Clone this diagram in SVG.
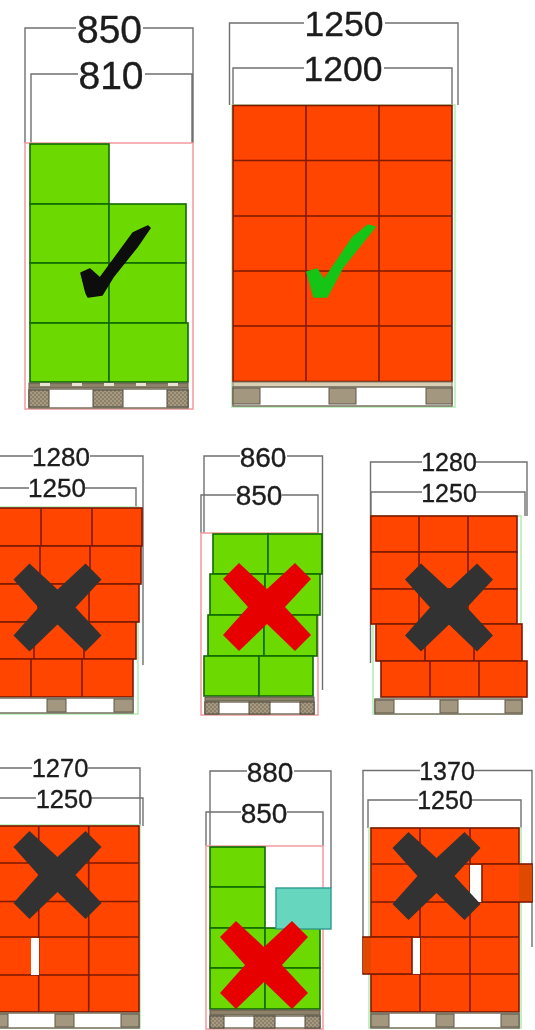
<svg xmlns="http://www.w3.org/2000/svg" width="535" height="1030" viewBox="0 0 535 1030">
<style>
.dim{fill:none;stroke:#6f6f6f;stroke-width:1.4}
.t{font-family:"Liberation Sans",Arial,sans-serif;fill:#1c1c1c;stroke:#1c1c1c;stroke-width:.35;text-anchor:middle}
.g{fill:#6cd900;stroke:#126a00;stroke-width:1.6}
.o{fill:#ff4500;stroke:#7d1a00;stroke-width:1.6}
.l{fill:none;stroke:#7d1a00;stroke-width:1.6}
.pk{fill:none;stroke:#f29a9f;stroke-width:1.5}
.gr{fill:none;stroke:#b5eeb5;stroke-width:1.6}
.blk{fill:#a3977f;stroke:#5e594a;stroke-width:1}
.hb{fill:url(#h);stroke:#4f4a3c;stroke-width:1}
.rail{fill:#fff;stroke:#807a68;stroke-width:1.6}
.deck{fill:#d8cfb5;stroke:#807a68;stroke-width:1}
.hd{fill:#8d8169;stroke:#5e594a;stroke-width:1}
.gap{fill:none;stroke:#e8e4d4;stroke-width:3;stroke-dasharray:10 22}
.xd{fill:#333}
.xr{fill:#e60000}
.soft{filter:url(#b)}
</style>
<defs>
<filter id="b" x="0" y="0" width="535" height="1030" filterUnits="userSpaceOnUse"><feGaussianBlur stdDeviation="0.5"/></filter>
<pattern id="h" width="4" height="4" patternUnits="userSpaceOnUse"><rect width="4" height="4" fill="#a79a80"/><path d="M0 1H2M2 3H4" stroke="#6f6753" stroke-width="1"/></pattern>
<path id="x" d="M-28 -44L0 -18L28 -44L44 -28L18 0L44 28L28 44L0 17L-28 44L-44 28L-19 0L-44 -28Z"/>
</defs>
<rect width="535" height="1030" fill="#fff"/>
<g class="soft">
<g id="pallet-1">
<path class="dim" d="M25 143V28H76M143 28H193V143M31 143V74H78M145 74H192V143"/>
<rect class="pk" x="25" y="143" width="168" height="266"/>
<rect class="g" x="30" y="144" width="79" height="60"/><rect class="g" x="30" y="204" width="79" height="59"/><rect class="g" x="109" y="204" width="77" height="59"/><rect class="g" x="30" y="263" width="79" height="60"/><rect class="g" x="109" y="263" width="77" height="60"/><rect class="g" x="30" y="323" width="79" height="59"/><rect class="g" x="109" y="323" width="79" height="59"/>
<rect class="hd" x="29" y="383" width="159" height="5"/><path class="gap" d="M40 384.500H188"/><rect class="rail" x="29" y="389" width="159" height="19"/>
<rect class="hb" x="29" y="390" width="20" height="17"/><rect class="hb" x="93" y="390" width="30" height="17"/><rect class="hb" x="167" y="390" width="21" height="17"/>
<path d="M81 273L90 269L100 278L133 233L148 226L150 228L137 247L113 277L102 295L88 297L86 293Z" fill="#0c0c0c" stroke="#0c0c0c" stroke-width="1.500" stroke-linejoin="round"/>
<text class="t" x="109.500" y="43" font-size="39">850</text><text class="t" x="111" y="89" font-size="39">810</text>
</g>
<g id="pallet-2">
<path class="dim" d="M229.500 105V23H304M385 23H458V105M233 105V68H304M384 68H452V105"/>
<rect class="gr" x="232" y="105" width="223" height="302"/>
<rect class="o" x="233" y="105.500" width="219" height="276"/>
<path class="l" d="M306 105.500V381.500M379 105.500V381.500M233 160.500H452M233 216H452M233 271H452M233 326H452"/>
<rect class="deck" x="233" y="382" width="219" height="5"/><rect class="rail" x="233" y="387" width="219" height="19"/>
<rect class="blk" x="233" y="388" width="27" height="16"/><rect class="blk" x="329" y="388" width="27" height="16"/><rect class="blk" x="426" y="388" width="26" height="16"/>
<path d="M307 272L317 269L324 280L353 237L368 225L375 227L363 242L343 267L327 297L314 297Z" fill="#14c414" stroke="#14c414" stroke-width="1.500" stroke-linejoin="round"/>
<text class="t" x="344" y="36" font-size="35.500">1250</text><text class="t" x="343" y="81" font-size="35.500">1200</text>
</g>
<g id="pallet-3">
<path class="dim" d="M0 456H33M90 456H143V665M0 488H29M85 488H136V507"/>
<rect class="gr" x="-2" y="507" width="140" height="207"/>
<rect class="o" x="-2" y="508" width="144" height="38"/><path class="l" d="M41 508V546M92 508V546"/>
<rect class="o" x="-2" y="546" width="143" height="38"/><path class="l" d="M40 546V584M90 546V584"/>
<rect class="o" x="-2" y="584" width="141" height="38"/><path class="l" d="M38 584V622M89 584V622"/>
<rect class="o" x="-2" y="622" width="138" height="37"/><path class="l" d="M34 622V659M84 622V659"/>
<rect class="o" x="-2" y="659" width="135" height="38"/><path class="l" d="M31 659V697M82 659V697"/>
<rect class="rail" x="-2" y="698" width="135" height="15"/><rect class="blk" x="47" y="699" width="19" height="13"/><rect class="blk" x="114" y="699" width="19" height="13"/>
<use href="#x" class="xd" x="57.500" y="607.500"/>
<text class="t" x="61" y="466" font-size="26">1280</text><text class="t" x="57" y="497" font-size="26">1250</text>
</g>
<g id="pallet-4">
<path class="dim" d="M204 533V456H240M287 456H322.500V690M201 533V495H236M282 495H318V533"/>
<rect class="pk" x="201" y="533" width="117" height="182"/>
<rect class="g" x="213" y="534" width="55" height="40"/><rect class="g" x="268" y="534" width="54" height="40"/>
<rect class="g" x="210" y="574" width="55" height="41"/><rect class="g" x="265" y="574" width="55" height="41"/>
<rect class="g" x="208" y="615" width="56" height="41"/><rect class="g" x="264" y="615" width="53" height="41"/>
<rect class="g" x="204" y="656" width="55" height="40"/><rect class="g" x="259" y="656" width="54" height="40"/>
<rect class="hd" x="205" y="697" width="109" height="4"/><rect class="rail" x="205" y="702" width="109" height="12"/>
<rect class="hb" x="205" y="702" width="14" height="12"/><rect class="hb" x="249" y="702" width="21" height="12"/><rect class="hb" x="300" y="702" width="14" height="12"/>
<use href="#x" class="xr" x="267" y="607"/>
<text class="t" x="263" y="467" font-size="28">860</text><text class="t" x="259" y="505" font-size="28">850</text>
</g>
<g id="pallet-5">
<path class="dim" d="M370.500 663V462H422M476 462H527V516M371 516V492H422M476 492H525V516"/>
<rect class="gr" x="373" y="516" width="148" height="198"/>
<rect class="o" x="371" y="516" width="146" height="36"/><path class="l" d="M419 516V552M468 516V552"/>
<rect class="o" x="371" y="552" width="146" height="37"/><path class="l" d="M419 552V589M468 552V589"/>
<rect class="o" x="371" y="589" width="146" height="35"/><path class="l" d="M419 589V624M468 589V624"/>
<rect class="o" x="376" y="624" width="146" height="37"/><path class="l" d="M425 624V661M474 624V661"/>
<rect class="o" x="381" y="661" width="146" height="36"/><path class="l" d="M430 661V697M479 661V697"/>
<rect class="rail" x="375" y="699" width="147" height="15"/><rect class="blk" x="375" y="700" width="19" height="13"/><rect class="blk" x="440" y="700" width="18" height="13"/><rect class="blk" x="505" y="700" width="17" height="13"/>
<use href="#x" class="xd" x="449" y="607.500"/>
<text class="t" x="449" y="471" font-size="25">1280</text><text class="t" x="449" y="502" font-size="25">1250</text>
</g>
<g id="pallet-6">
<path class="dim" d="M0 768H32M88 768H140V826M0 798H36M91 798H143V826"/>
<rect class="gr" x="-2" y="825" width="142" height="203"/>
<rect class="o" x="-2" y="826" width="141" height="186"/>
<path class="l" d="M0 863H139M0 901.500H139M0 937H139M0 975H139M38.700 826V1012M88.700 826V1012"/>
<rect x="31" y="938" width="8" height="37" fill="#fff"/>
<rect class="rail" x="-2" y="1013" width="141" height="15"/><rect class="blk" x="-2" y="1014" width="10" height="13"/><rect class="blk" x="55" y="1014" width="19" height="13"/><rect class="blk" x="121" y="1014" width="18" height="13"/>
<use href="#x" class="xd" x="57.500" y="875"/>
<text class="t" x="60" y="777" font-size="25.500">1270</text><text class="t" x="64" y="808" font-size="25.500">1250</text>
</g>
<g id="pallet-7">
<path class="dim" d="M210 847V771H247M294 771H331V888M206 846V812H241M287 812H323V846"/>
<rect class="pk" x="206" y="846" width="117" height="183"/>
<rect class="g" x="210" y="847" width="55" height="40"/><rect class="g" x="210" y="887" width="55" height="41"/>
<rect class="g" x="210" y="928" width="55" height="40"/><rect class="g" x="265" y="928" width="55" height="40"/>
<rect class="g" x="210" y="968" width="55" height="41"/><rect class="g" x="265" y="968" width="55" height="41"/>
<rect x="276" y="888" width="55" height="41" fill="#66d6bf" stroke="#2f9a8c" stroke-width="1.400"/>
<rect class="hd" x="210" y="1010" width="110" height="5"/><rect class="rail" x="210" y="1016" width="110" height="12"/>
<rect class="hb" x="210" y="1016" width="14" height="12"/><rect class="hb" x="254" y="1016" width="21" height="12"/><rect class="hb" x="305" y="1016" width="15" height="12"/>
<use href="#x" class="xr" x="264" y="965"/>
<text class="t" x="270" y="782" font-size="28">880</text><text class="t" x="264" y="823" font-size="28">850</text>
</g>
<g id="pallet-8">
<path class="dim" d="M363 938V770.500H420M474 770.500H532V947M368 828V800H418M472 800H521V828"/>
<rect class="gr" x="369" y="828" width="152" height="200"/>
<rect class="o" x="371" y="828" width="148" height="184"/>
<path class="l" d="M371 864H519M371 902H519M371 937H519M371 974H519M420 828V1012M470 828V1012"/>
<rect x="470" y="865" width="12" height="37" fill="#fff"/>
<rect class="o" x="482" y="864" width="50" height="38"/><rect x="519" y="865" width="13" height="36" fill="#e04a00"/>
<rect x="412" y="938" width="8" height="36" fill="#fff"/>
<rect class="o" x="363" y="937" width="49" height="37"/><rect x="363" y="938" width="8" height="35" fill="#e04a00"/>
<rect class="rail" x="371" y="1013" width="148" height="15"/><rect class="blk" x="371" y="1014" width="18" height="13"/><rect class="blk" x="436" y="1014" width="18" height="13"/><rect class="blk" x="501" y="1014" width="18" height="13"/>
<use href="#x" class="xd" x="436.500" y="876"/>
<text class="t" x="447" y="780" font-size="25">1370</text><text class="t" x="445" y="809" font-size="25">1250</text>
</g>
</g>
</svg>
